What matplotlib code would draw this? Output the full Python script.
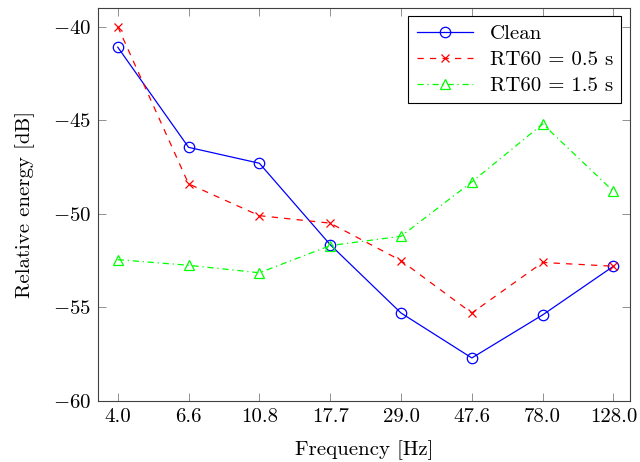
import numpy as np
import matplotlib
matplotlib.use('Agg')
import matplotlib.pyplot as plt

plt.rcParams['font.family'] = ['cmr10', 'DejaVu Serif']
plt.rcParams['mathtext.fontset'] = 'cm'
plt.rcParams['axes.formatter.use_mathtext'] = True
plt.rcParams['font.size'] = 15

freqs = ['4.0', '6.6', '10.8', '17.7', '29.0', '47.6', '78.0', '128.0']
clean = [-41.1, -46.45, -47.3, -51.65, -55.3, -57.7, -55.4, -52.8]
rt60_05 = [-40.0, -48.4, -50.1, -50.5, -52.5, -55.3, -52.6, -52.8]
rt60_15 = [-52.45, -52.75, -53.15, -51.7, -51.2, -48.3, -45.2, -48.8]

x_pos = np.arange(len(freqs))

fig = plt.figure(figsize=(6.4, 4.62), dpi=100)
ax = fig.add_axes([0.153, 0.132, 0.831, 0.851])

ax.plot(x_pos, clean, color='blue', lw=0.9, marker='o', ms=7.5,
        mfc='none', mec='blue', mew=0.9, label='Clean')
ax.plot(x_pos, rt60_05, color='red', lw=0.9, dashes=(5, 5), marker='x',
        ms=6, mec='red', mew=0.9, label='RT60 = 0.5 s')
ax.plot(x_pos, rt60_15, color='#00ff00', lw=0.9, dashes=(5, 3, 1, 3),
        marker='^', ms=6.5, mfc='none', mec='#00ff00', mew=0.9,
        label='RT60 = 1.5 s')

ax.set_xlim(-0.28, 7.23)
ax.set_ylim(-60, -39)
ax.set_xticks(x_pos)
ax.set_xticklabels(freqs)
ax.set_yticks([-60, -55, -50, -45, -40])
ax.tick_params(direction='in', top=True, right=True, length=6,
               width=0.6, color='#7f7f7f', pad=5)
for s in ax.spines.values():
    s.set_linewidth(0.8)
    s.set_color('#404040')

ax.set_xlabel('Frequency [Hz]', labelpad=10)
ax.set_ylabel('Relative energy [dB]', labelpad=13)

leg = ax.legend(loc='upper right', fancybox=False, framealpha=1,
                edgecolor='black', borderaxespad=0.4, handlelength=2.7,
                labelspacing=0.35, borderpad=0.4)
leg.get_frame().set_linewidth(0.8)

plt.savefig('out.png', dpi=100)
